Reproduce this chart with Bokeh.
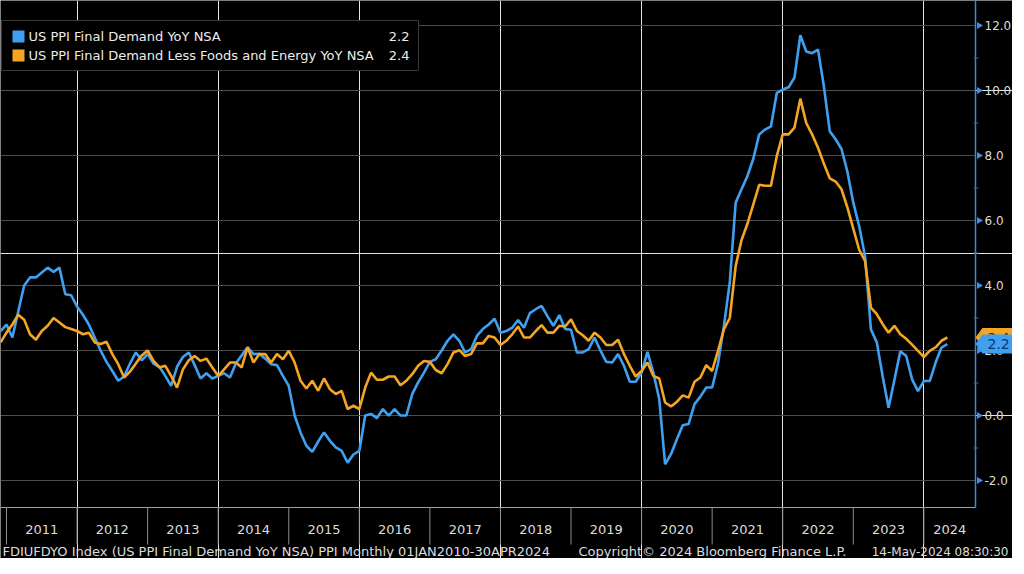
import math
import pandas as pd
from bokeh.plotting import figure
from bokeh.models import Range1d
from bokeh.core.properties import value
from bokeh.embed import file_html
from bokeh.resources import INLINE

# ---------------- data (monthly, Nov 2010 .. Apr 2024) ----------------
start_month = "2010-11"
ppi_fd = [
    2.6, 2.8,
    2.4, 3.2, 4.0, 4.25, 4.25, 4.4, 4.55, 4.42, 4.55, 3.73, 3.7, 3.35,
    3.1, 2.8, 2.4, 2.0, 1.65, 1.37, 1.07, 1.2, 1.6, 1.94, 1.7, 1.89,
    1.6, 1.5, 1.22, 0.91, 1.5, 1.8, 1.94, 1.55, 1.14, 1.3, 1.14, 1.22,
    1.3, 1.17, 1.6, 1.85, 2.1, 1.89, 1.9, 1.75, 1.58, 1.55, 1.22, 0.91,
    0.0, -0.52, -0.93, -1.12, -0.8, -0.52, -0.78, -0.98, -1.09, -1.45, -1.2, -1.09,
    0.0, 0.05, -0.08, 0.2, 0.0, 0.2, 0.0, 0.0, 0.66, 1.02, 1.32, 1.65,
    1.73, 2.0, 2.3, 2.5, 2.3, 1.94, 2.04, 2.45, 2.66, 2.8, 2.98, 2.55,
    2.6, 2.7, 2.94, 2.7, 3.15, 3.27, 3.37, 3.05, 2.76, 3.09, 2.66, 2.64,
    1.94, 1.94, 2.04, 2.4, 2.0, 1.65, 1.63, 1.89, 1.53, 1.04, 1.04, 1.32,
    1.96, 1.32, 0.51, -1.5, -1.19, -0.73, -0.3, -0.26, 0.35, 0.58, 0.86, 0.86,
    1.6, 2.75, 4.1, 6.55, 6.96, 7.37, 7.9, 8.65, 8.8, 8.9, 9.93, 10.03,
    10.1, 10.4, 11.7, 11.2, 11.15, 11.26, 10.13, 8.75, 8.5, 8.2, 7.5, 6.55,
    5.83, 4.9, 2.65, 2.25, 1.2, 0.24, 1.1, 1.98, 1.83, 1.11, 0.75, 1.06,
    1.06, 1.63, 2.09, 2.2,
]
ppi_core = [
    2.25, 2.55,
    2.8, 3.1, 2.95, 2.5, 2.33, 2.6, 2.76, 3.0, 2.86, 2.72, 2.66, 2.6,
    2.5, 2.55, 2.25, 2.2, 2.27, 1.89, 1.58, 1.17, 1.35, 1.6, 1.85, 2.0,
    1.68, 1.48, 1.53, 1.22, 0.86, 1.42, 1.7, 1.83, 1.68, 1.75, 1.48, 1.22,
    1.42, 1.63, 1.63, 1.48, 2.1, 1.63, 1.89, 1.89, 1.63, 1.89, 1.73, 1.99,
    1.63, 1.07, 0.83, 1.07, 0.76, 1.14, 0.81, 0.66, 0.76, 0.2, 0.3, 0.2,
    0.86, 1.32, 1.1, 1.1, 1.2, 1.2, 0.93, 1.07, 1.27, 1.53, 1.68, 1.65,
    1.4, 1.3, 1.58, 1.94, 2.01, 1.83, 1.89, 2.22, 2.22, 2.45, 2.4, 2.17,
    2.3, 2.5, 2.74, 2.4, 2.4, 2.6, 2.78, 2.55, 2.55, 2.76, 2.74, 2.96,
    2.6, 2.47, 2.3, 2.55, 2.4, 2.17, 2.17, 2.33, 1.89, 1.53, 1.2, 1.37,
    1.63, 1.22, 1.14, 0.4, 0.28, 0.42, 0.62, 0.55, 1.04, 1.17, 1.55, 1.37,
    1.99, 2.66, 3.0, 4.6, 5.4, 5.9, 6.5, 7.1, 7.07, 7.07, 7.99, 8.65,
    8.65, 8.86, 9.75, 9.0, 8.65, 8.24, 7.75, 7.3, 7.2, 6.96, 6.4, 5.75,
    5.1, 4.76, 3.32, 3.12, 2.81, 2.55, 2.76, 2.5, 2.36, 2.18, 1.99, 1.8,
    1.99, 2.1, 2.3, 2.4,
]
year_ticks = list(range(2011, 2025))
y_ticks = [-2, 0, 2, 4, 6, 8, 10, 12]
y_minor = [-1, 1, 3, 5, 7, 9, 11]
series_names = ["US PPI Final Demand YoY NSA",
                "US PPI Final Demand Less Foods and Energy YoY NSA"]
footer_left = "FDIUFDYO Index (US PPI Final Demand YoY NSA) PPI  Monthly 01JAN2010-30APR2024"
footer_mid = "Copyright\u00a9 2024 Bloomberg Finance L.P."
footer_right = "14-May-2024 08:30:30"

# ---------------- styling / layout ----------------
BLUE = "#3fa0f2"
ORANGE = "#f5a524"
AXIS_BLUE = "#3d86dc"
TXT = "#dcdcdc"
FONT = value("DejaVu Sans")

W, H = 1012, 558
X0 = 2010.915            # left edge of the plot
X_AX = 2024.732          # position of the value axis
AX_PX = 975.0            # axis distance from left edge, px
PPY = AX_PX / (X_AX - X0)
X_END = X0 + W / PPY
Y0, Y1 = -4.40, 12.77
PPU = H / (Y1 - Y0)


def fx(px):  # page px -> data x
    return X0 + (px - 8) / PPY


def fy(py):  # page px -> data y
    return Y1 - (py - 8) / PPU


months = pd.period_range(start_month, periods=len(ppi_fd), freq="M")
x = (months.year + months.month / 12).to_numpy()

p = figure(width=W, height=H, x_range=Range1d(X0, X_END), y_range=Range1d(Y0, Y1),
           x_axis_location=None, y_axis_location=None, tools="",
           output_backend="svg", toolbar_location=None, min_border=0,
           background_fill_color="black", border_fill_color="black",
           outline_line_color=None)

strip_top = fy(515)
strip_bot = fy(552)
px1 = 1.0 / PPY
py1 = 1.0 / PPU

# horizontal grid at the value-axis ticks
p.segment(x0=X0, x1=X_AX, y0=y_ticks, y1=y_ticks, line_color="#4e4e4e", line_width=1)

# series
p.line(x, ppi_fd, line_color=BLUE, line_width=2.6)
p.line(x, ppi_core, line_color=ORANGE, line_width=2.6)

# value axis on the right
p.segment(x0=X_AX, x1=X_AX, y0=strip_top, y1=Y1, line_color=AXIS_BLUE, line_width=1.5)
p.scatter(x=[X_AX + 3.5 * px1] * len(y_ticks), y=y_ticks, marker="triangle",
          angle=-math.pi / 2, size=7, fill_color="#3d8fe8", line_color=None)
p.segment(x0=X_AX - 2 * px1, x1=X_AX + 3 * px1, y0=y_minor, y1=y_minor,
          line_color="#3a66a0", line_width=1)
p.text(x=[X_AX + 9 * px1] * len(y_ticks), y=y_ticks, text=[f"{t:.1f}" for t in y_ticks],
       text_align="left", text_baseline="middle", text_color=TXT, text_font=FONT,
       text_font_size="12px")

# bottom date strip
p.segment(x0=X0, x1=X_AX, y0=strip_top, y1=strip_top, line_color="#a0a0a0", line_width=1)
p.segment(x0=year_ticks, y0=strip_top, x1=year_ticks, y1=strip_bot,
          line_color="#8c8c8c", line_width=1)
ends = year_ticks[1:] + [X_AX]
mids = [(a + b) / 2 for a, b in zip(year_ticks, ends)]
p.text(x=mids, y=fy(537), text=[str(y) for y in year_ticks], text_align="center",
       text_baseline="middle", text_color=TXT, text_font=FONT, text_font_size="13px")

# legend box
p.quad(left=fx(9), right=fx(426), top=fy(28), bottom=fy(78),
       fill_color="black", line_color="#3a3a3a", line_width=1)
leg_y = [fy(44), fy(63)]
p.scatter(x=[fx(26), fx(26)], y=leg_y, marker="square", size=12,
          fill_color=[BLUE, ORANGE], line_color=None)
p.text(x=[fx(36), fx(36)], y=leg_y, text=series_names, text_baseline="middle",
       text_color="#ececec", text_font=FONT, text_font_size="13px")
last_vals = [f"{ppi_fd[-1]:.1f}", f"{ppi_core[-1]:.1f}"]
p.text(x=[fx(417), fx(417)], y=leg_y, text=last_vals, text_align="right",
       text_baseline="middle", text_color="#ececec", text_font=FONT,
       text_font_size="13px")

# last-value tags on the axis (arrow shaped); orange first, blue on top
tag_half = 9.5 / PPU
for v, col, tcol in [(ppi_core[-1], ORANGE, "#3a2600"), (ppi_fd[-1], BLUE, "#12346a")]:
    p.patch(x=[X_AX, X_AX + 7 * px1, X_END, X_END, X_AX + 7 * px1],
            y=[v, v + tag_half, v + tag_half, v - tag_half, v - tag_half],
            fill_color=col, line_color=None)
    p.text(x=[X_AX + 12 * px1], y=[v], text=[f"{v:.1f}"], text_align="left",
           text_baseline="middle", text_color=tcol, text_font=FONT,
           text_font_size="14px")

# footer
p.text(x=[fx(10), fx(586)], y=[fy(559)] * 2,
       text=[footer_left, footer_mid], text_align="left",
       text_baseline="middle", text_color=TXT, text_font=FONT,
       text_font_size="13px")
p.text(x=[fx(1016)], y=[fy(559)], text=[footer_right], text_align="right",
       text_baseline="middle", text_color=TXT, text_font=FONT,
       text_font_size="12px")

open("out.html", "w").write(file_html(p, INLINE))
